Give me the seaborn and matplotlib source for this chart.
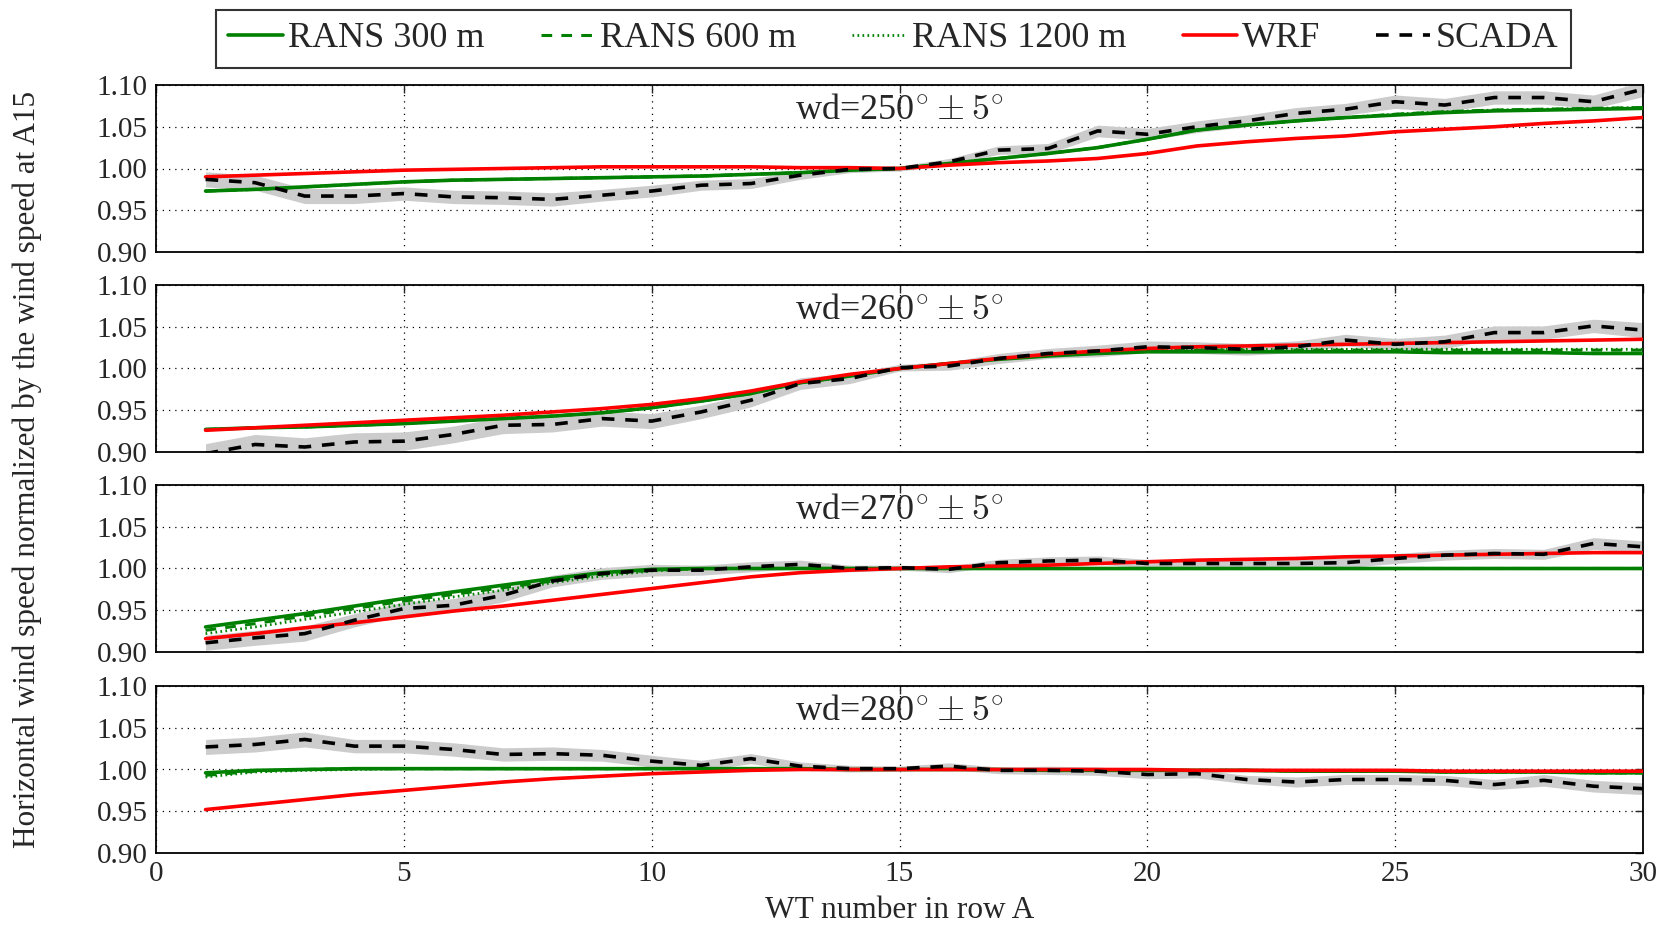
import numpy as np
import pandas as pd
import seaborn as sns
import matplotlib
matplotlib.use("Agg")
import matplotlib.pyplot as plt
from matplotlib.lines import Line2D

# ---------------------------------------------------------------------------
# Data: wind speed along row A normalised by the speed at turbine A15
# ---------------------------------------------------------------------------
turbines = list(range(1, 31))
sectors = ["250", "260", "270", "280"]

scada = {
    "250": [0.987, 0.983, 0.967, 0.967, 0.970, 0.966, 0.965, 0.963, 0.968, 0.973,
            0.980, 0.982, 0.992, 0.999, 1.000, 1.008, 1.022, 1.024, 1.045, 1.041,
            1.050, 1.057, 1.066, 1.071, 1.080, 1.076, 1.085, 1.085, 1.080, 1.095],
    "260": [0.898, 0.909, 0.906, 0.912, 0.913, 0.921, 0.932, 0.933, 0.940, 0.937,
            0.948, 0.962, 0.982, 0.988, 1.001, 1.003, 1.012, 1.018, 1.021, 1.026,
            1.025, 1.023, 1.026, 1.034, 1.029, 1.032, 1.043, 1.043, 1.051, 1.046],
    "270": [0.911, 0.917, 0.922, 0.938, 0.952, 0.956, 0.968, 0.985, 0.994, 0.998,
            0.998, 1.002, 1.005, 1.000, 1.001, 0.999, 1.007, 1.009, 1.010, 1.006,
            1.006, 1.006, 1.006, 1.007, 1.012, 1.016, 1.018, 1.017, 1.030, 1.026],
    "280": [1.027, 1.030, 1.036, 1.028, 1.028, 1.024, 1.018, 1.019, 1.017, 1.010,
            1.005, 1.013, 1.004, 1.001, 1.001, 1.004, 0.999, 0.999, 0.998, 0.994,
            0.995, 0.988, 0.985, 0.988, 0.988, 0.987, 0.982, 0.987, 0.980, 0.977],
}

# half-width of the shaded SCADA uncertainty band
scada_spread = {
    "250": [0.009, 0.009, 0.009, 0.009, 0.008, 0.008, 0.008, 0.008, 0.007, 0.007,
            0.006, 0.006, 0.005, 0.004, 0.003, 0.004, 0.005, 0.006, 0.007, 0.007,
            0.007, 0.007, 0.007, 0.007, 0.008, 0.008, 0.008, 0.008, 0.008, 0.009],
    "260": [0.012, 0.012, 0.011, 0.011, 0.011, 0.010, 0.010, 0.009, 0.009, 0.009,
            0.008, 0.008, 0.007, 0.006, 0.004, 0.005, 0.006, 0.006, 0.007, 0.007,
            0.007, 0.007, 0.007, 0.007, 0.007, 0.008, 0.008, 0.008, 0.008, 0.009],
    "270": [0.009, 0.009, 0.009, 0.008, 0.008, 0.008, 0.008, 0.007, 0.007, 0.007,
            0.006, 0.006, 0.005, 0.004, 0.003, 0.004, 0.004, 0.005, 0.005, 0.005,
            0.005, 0.005, 0.005, 0.006, 0.006, 0.006, 0.006, 0.006, 0.007, 0.007],
    "280": [0.009, 0.009, 0.009, 0.008, 0.008, 0.008, 0.008, 0.008, 0.007, 0.007,
            0.006, 0.006, 0.005, 0.004, 0.003, 0.004, 0.004, 0.005, 0.005, 0.005,
            0.005, 0.005, 0.006, 0.006, 0.006, 0.006, 0.006, 0.007, 0.007, 0.007],
}

rans_300 = {
    "250": [0.973, 0.975, 0.978, 0.981, 0.984, 0.986, 0.987, 0.988, 0.989, 0.990,
            0.991, 0.993, 0.995, 0.998, 1.000, 1.006, 1.012, 1.018, 1.025, 1.035,
            1.046, 1.052, 1.057, 1.061, 1.064, 1.067, 1.069, 1.070, 1.071, 1.072],
    "260": [0.927, 0.929, 0.930, 0.932, 0.934, 0.937, 0.940, 0.943, 0.947, 0.953,
            0.961, 0.970, 0.983, 0.991, 1.000, 1.006, 1.011, 1.015, 1.018, 1.020,
            1.020, 1.020, 1.020, 1.020, 1.020, 1.019, 1.019, 1.019, 1.018, 1.018],
    "270": [0.930, 0.938, 0.946, 0.955, 0.964, 0.972, 0.980, 0.988, 0.995, 0.999,
            1.000, 1.000, 1.000, 1.000, 1.000, 1.000, 1.000, 1.000, 1.000, 1.000,
            1.000, 1.000, 1.000, 1.000, 1.000, 1.000, 1.000, 1.000, 1.000, 1.000],
    "280": [0.996, 0.999, 1.000, 1.001, 1.001, 1.001, 1.001, 1.001, 1.001, 1.001,
            1.001, 1.001, 1.001, 1.000, 1.000, 1.000, 1.000, 0.999, 0.999, 0.999,
            0.999, 0.999, 0.998, 0.998, 0.998, 0.997, 0.997, 0.997, 0.996, 0.996],
}

rans_600 = {
    "250": [0.973, 0.975, 0.978, 0.981, 0.984, 0.986, 0.987, 0.988, 0.989, 0.990,
            0.991, 0.993, 0.995, 0.998, 1.000, 1.006, 1.012, 1.018, 1.025, 1.035,
            1.046, 1.052, 1.057, 1.061, 1.065, 1.068, 1.070, 1.071, 1.072, 1.073],
    "260": [0.927, 0.929, 0.930, 0.932, 0.934, 0.937, 0.940, 0.943, 0.947, 0.953,
            0.961, 0.970, 0.983, 0.991, 1.000, 1.006, 1.012, 1.016, 1.019, 1.021,
            1.022, 1.022, 1.022, 1.022, 1.022, 1.022, 1.022, 1.022, 1.022, 1.022],
    "270": [0.926, 0.934, 0.943, 0.952, 0.961, 0.969, 0.977, 0.985, 0.993, 0.998,
            1.000, 1.000, 1.000, 1.000, 1.000, 1.000, 1.000, 1.000, 1.000, 1.000,
            1.000, 1.000, 1.000, 1.000, 1.000, 1.000, 1.000, 1.000, 1.000, 1.000],
    "280": [0.993, 0.998, 1.000, 1.001, 1.001, 1.001, 1.001, 1.001, 1.001, 1.001,
            1.001, 1.001, 1.001, 1.000, 1.000, 1.000, 1.000, 0.999, 0.999, 0.999,
            0.999, 0.999, 0.998, 0.998, 0.998, 0.997, 0.997, 0.997, 0.996, 0.996],
}

rans_1200 = {
    "250": [0.973, 0.975, 0.978, 0.981, 0.984, 0.986, 0.987, 0.988, 0.989, 0.990,
            0.991, 0.993, 0.995, 0.998, 1.000, 1.006, 1.012, 1.018, 1.025, 1.035,
            1.046, 1.052, 1.057, 1.061, 1.065, 1.068, 1.070, 1.071, 1.072, 1.073],
    "260": [0.927, 0.929, 0.930, 0.932, 0.934, 0.937, 0.940, 0.943, 0.947, 0.953,
            0.961, 0.970, 0.983, 0.991, 1.000, 1.006, 1.012, 1.017, 1.020, 1.022,
            1.023, 1.023, 1.023, 1.023, 1.023, 1.023, 1.023, 1.023, 1.023, 1.023],
    "270": [0.922, 0.930, 0.939, 0.948, 0.957, 0.966, 0.974, 0.983, 0.991, 0.997,
            1.000, 1.000, 1.000, 1.000, 1.000, 1.000, 1.000, 1.000, 1.000, 1.000,
            1.000, 1.000, 1.000, 1.000, 1.000, 1.000, 1.000, 1.000, 1.000, 1.000],
    "280": [0.991, 0.997, 0.999, 1.000, 1.001, 1.001, 1.001, 1.001, 1.001, 1.001,
            1.001, 1.001, 1.001, 1.000, 1.000, 1.000, 1.000, 0.999, 0.999, 0.999,
            0.999, 0.999, 0.998, 0.998, 0.998, 0.997, 0.997, 0.997, 0.996, 0.996],
}

wrf = {
    "250": [0.990, 0.992, 0.994, 0.996, 0.998, 0.999, 1.000, 1.001, 1.002, 1.002,
            1.002, 1.002, 1.001, 1.001, 1.000, 1.004, 1.007, 1.009, 1.012, 1.018,
            1.027, 1.032, 1.036, 1.039, 1.044, 1.047, 1.050, 1.054, 1.057, 1.061],
    "260": [0.926, 0.929, 0.932, 0.935, 0.938, 0.941, 0.944, 0.948, 0.952, 0.957,
            0.964, 0.973, 0.984, 0.993, 1.000, 1.006, 1.012, 1.017, 1.021, 1.024,
            1.026, 1.027, 1.028, 1.029, 1.030, 1.031, 1.032, 1.033, 1.034, 1.035],
    "270": [0.916, 0.922, 0.929, 0.935, 0.942, 0.949, 0.955, 0.962, 0.969, 0.976,
            0.983, 0.990, 0.995, 0.998, 1.000, 1.002, 1.003, 1.004, 1.006, 1.008,
            1.010, 1.011, 1.012, 1.014, 1.015, 1.016, 1.017, 1.018, 1.019, 1.019],
    "280": [0.952, 0.958, 0.964, 0.970, 0.975, 0.980, 0.985, 0.989, 0.992, 0.995,
            0.997, 0.999, 1.000, 1.000, 1.000, 1.000, 1.000, 1.000, 1.000, 1.000,
            0.999, 0.999, 0.999, 0.999, 0.999, 0.998, 0.998, 0.998, 0.998, 0.998],
}

x_ticks = [0, 5, 10, 15, 20, 25, 30]
y_ticks = [0.90, 0.95, 1.00, 1.05, 1.10]

# ---------------------------------------------------------------------------
# Styling
# ---------------------------------------------------------------------------
sns.set_theme(style="white")
plt.rcParams["font.family"] = ["Liberation Serif", "DejaVu Serif"]
plt.rcParams["mathtext.fontset"] = "cm"
plt.rcParams["axes.edgecolor"] = "black"
plt.rcParams["axes.linewidth"] = 1.3

series_style = [
    ("RANS 300 m", rans_300, dict(color="green", lw=2.6, linestyle="-")),
    ("RANS 600 m", rans_600, dict(color="green", lw=2.2, linestyle=(0, (3.5, 3)))),
    ("RANS 1200 m", rans_1200, dict(color="green", lw=2.0, linestyle=(0, (0.6, 1.2)))),
    ("WRF", wrf, dict(color="red", lw=2.6, linestyle="-")),
    ("SCADA", scada, dict(color="black", lw=2.6, linestyle=(0, (3.5, 3)))),
]

fig = plt.figure(figsize=(16.67, 9.25), dpi=100)

left, width = 156 / 1667, (1643 - 156) / 1667
tops = [85, 285, 485, 686]
height = 167 / 925
axes = []
for t in tops:
    axes.append(fig.add_axes([left, 1 - (t + 167) / 925, width, height]))

for i, (ax, sec) in enumerate(zip(axes, sectors)):
    lo = np.array(scada[sec]) - np.array(scada_spread[sec])
    hi = np.array(scada[sec]) + np.array(scada_spread[sec])
    ax.fill_between(turbines, lo, hi, color="0.80", lw=0, zorder=1)

    for name, table, kw in series_style:
        df = pd.DataFrame({"wt": turbines, "u": table[sec]})
        sns.lineplot(data=df, x="wt", y="u", ax=ax, zorder=3, **kw)

    ax.set_xlim(0, 30)
    ax.set_ylim(0.90, 1.10)
    ax.set_xticks(x_ticks)
    ax.set_yticks(y_ticks)
    ax.set_yticklabels([f"{v:.2f}" for v in y_ticks], fontsize=21)
    ax.set_xlabel("")
    ax.set_ylabel("")
    ax.grid(True, linestyle=(0, (1, 4)), color="black", lw=0.9)
    ax.tick_params(axis="both", which="both", direction="in", length=6,
                   width=1.0, top=True, right=True, pad=6)
    if i < len(axes) - 1:
        ax.set_xticklabels([])
    else:
        ax.set_xticklabels([str(v) for v in x_ticks], fontsize=21)
    for sp in ax.spines.values():
        sp.set_visible(True)
        sp.set_color("black")
        sp.set_linewidth(1.3)
    ax.text(15, 1.069, r"wd=" + sec + r"$^{\circ}\pm5^{\circ}$",
            ha="center", va="center", fontsize=26, zorder=5)

handles = [Line2D([0], [0], **kw) for _, _, kw in series_style]
labels = [name for name, _, _ in series_style]
leg = fig.legend(handles, labels, loc="center", bbox_to_anchor=(0.536, 0.958),
                 ncol=5, fontsize=26, frameon=True, fancybox=False,
                 handlelength=1.5, handletextpad=0.15, columnspacing=1.55,
                 borderpad=0.35)
leg.get_frame().set_edgecolor("black")
leg.get_frame().set_linewidth(1.5)

fig.text(0.5396, 1 - 911 / 925, "WT number in row A", ha="center", va="center",
         fontsize=22.5)
fig.text(27 / 1667, 1 - 469 / 925,
         "Horizontal wind speed normalized by the wind speed at A15",
         ha="center", va="center", rotation=90, fontsize=22.5)

fig.savefig("out.png", dpi=100)
